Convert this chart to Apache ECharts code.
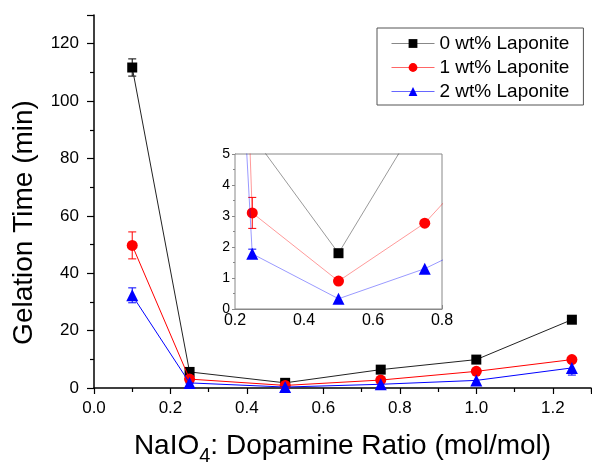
<!DOCTYPE html>
<html>
<head>
<meta charset="utf-8">
<script src="https://cdn.jsdelivr.net/npm/echarts@6/dist/echarts.min.js"></script>
<style>html,body{margin:0;padding:0;background:#fff}#c{width:592px;height:464px}</style>
</head>
<body>
<div id="c"></div>
<script>
var ratios = [0.1, 0.25, 0.5, 0.75, 1.0, 1.25];
var lap0 = [111.7, 5.6, 1.8, 6.4, 9.9, 23.8];
var lap1 = [49.7, 3.1, 0.9, 2.77, 5.8, 9.9];
var lap2 = [32.3, 1.78, 0.33, 1.3, 2.65, 7.0];
var err0 = [3.0, 0, 0, 0, 0, 0];
var err1 = [4.7, 0.5, 0, 0, 0, 0];
var err2 = [2.6, 0.15, 0, 0, 0, 2.5];
var names = ['0 wt% Laponite', '1 wt% Laponite', '2 wt% Laponite'];
var mainXTicks = [0.0, 0.2, 0.4, 0.6, 0.8, 1.0, 1.2];
var mainYTicks = [0, 20, 40, 60, 80, 100, 120];
var insetXTicks = [0.2, 0.4, 0.6, 0.8];
var insetYTicks = [0, 1, 2, 3, 4, 5];

var FONT = "'Liberation Sans', Arial, Helvetica, sans-serif";
var colors = ['#000000', '#ff0000', '#0000ff'];
var lineColors = ['#222222', '#ff0000', '#0000ff'];
var legendLineColors = ['#888888', '#ff6666', '#6666ff'];
var symbols = ['rect', 'circle', 'triangle'];
var sizes = [10, 11, 12];
var allVals = [lap0, lap1, lap2];
var allErr = [err0, err1, err2];

function pairs(v) { return ratios.map(function (x, i) { return [x, v[i]]; }); }
function errData(v, e) {
  var out = [];
  ratios.forEach(function (x, i) { if (e[i] > 0) out.push([x, v[i] - e[i], v[i] + e[i]]); });
  return out;
}
function errRender(color) {
  return function (params, api) {
    var lo = api.coord([api.value(0), api.value(1)]);
    var hi = api.coord([api.value(0), api.value(2)]);
    var w = 4;
    var st = { stroke: color, lineWidth: 1 };
    return { type: 'group', children: [
      { type: 'line', shape: { x1: lo[0], y1: lo[1], x2: hi[0], y2: hi[1] }, style: st },
      { type: 'line', shape: { x1: lo[0] - w, y1: lo[1], x2: lo[0] + w, y2: lo[1] }, style: st },
      { type: 'line', shape: { x1: hi[0] - w, y1: hi[1], x2: hi[0] + w, y2: hi[1] }, style: st }
    ]};
  };
}

var series = [];
[0, 1, 2].forEach(function (k) {
  series.push({ type: 'custom', name: 'err' + k, xAxisIndex: 0, yAxisIndex: 0, clip: true,
    renderItem: errRender(colors[k]), data: errData(allVals[k], allErr[k]), z: 2 });
});
[0, 1, 2].forEach(function (k) {
  series.push({ type: 'line', name: names[k], xAxisIndex: 0, yAxisIndex: 0,
    data: pairs(allVals[k]), symbol: symbols[k], symbolSize: sizes[k],
    itemStyle: { color: colors[k] }, lineStyle: { color: lineColors[k], width: 1 },
    z: 3 + k, animation: false });
});
[0, 1, 2].forEach(function (k) {
  series.push({ type: 'custom', name: 'ierr' + k, xAxisIndex: 1, yAxisIndex: 1, clip: true,
    renderItem: errRender(colors[k]), data: errData(allVals[k], allErr[k]), z: 12 });
});
[0, 1, 2].forEach(function (k) {
  series.push({ type: 'line', name: 'inset' + k, xAxisIndex: 1, yAxisIndex: 1,
    data: pairs(allVals[k]), symbol: symbols[k], symbolSize: sizes[k], clip: true,
    itemStyle: { color: colors[k] }, lineStyle: { color: colors[k], width: 1, opacity: 0.4 },
    z: 13 + k, animation: false });
});

var chart = echarts.init(document.getElementById('c'), null, { renderer: 'canvas' });
chart.setOption({
  animation: false,
  backgroundColor: '#ffffff',
  textStyle: { fontFamily: FONT },
  legend: {
    data: names.map(function (n, k) { return { name: n, lineStyle: { color: legendLineColors[k], width: 1 } }; }),
    orient: 'vertical', left: 377, top: 28,
    padding: [6, 14, 4, 14], itemGap: 5, itemWidth: 43, itemHeight: 11,
    borderColor: '#555', borderWidth: 1, backgroundColor: '#fff',
    textStyle: { fontFamily: FONT, fontSize: 19, color: '#000' },
    selectedMode: false, z: 20
  },
  grid: [
    { left: 94, top: 15, right: 1, bottom: 76, containLabel: false, outerBoundsMode: 'none' },
    { left: 235, top: 154, width: 207, height: 155, show: true, borderColor: '#888', borderWidth: 1, backgroundColor: '#fff', z: 10, containLabel: false, outerBoundsMode: 'none' }
  ],
  xAxis: [
    { type: 'value', gridIndex: 0, min: 0, max: 1.3, interval: 0.2,
      axisLine: { show: true, onZero: false, lineStyle: { color: '#000', width: 1.5 } },
      axisTick: { show: true, length: 6, lineStyle: { color: '#000', width: 1.2 } },
      minorTick: { show: true, splitNumber: 2, length: 4, lineStyle: { color: '#000', width: 1.2 } },
      splitLine: { show: false },
      axisLabel: { fontFamily: FONT, fontSize: 17, color: '#000', margin: 12, showMaxLabel: false,
        formatter: function (v) { return v.toFixed(1); } },
      name: '{a|NaIO}{s|4}{a|: Dopamine Ratio (mol/mol)}', nameLocation: 'middle', nameGap: 38,
      nameTextStyle: { rich: {
        a: { fontFamily: FONT, fontSize: 28, lineHeight: 40, color: '#000' },
        s: { fontFamily: FONT, fontSize: 20, lineHeight: 20, verticalAlign: 'bottom', color: '#000' }
      } }
    },
    { type: 'value', gridIndex: 1, min: 0.2, max: 0.8, interval: 0.2,
      axisLine: { show: true, onZero: false, lineStyle: { color: '#888', width: 1 } },
      axisTick: { show: true, inside: true, length: 4, lineStyle: { color: '#888' } },
      minorTick: { show: true, splitNumber: 2, length: 3, lineStyle: { color: '#888' } },
      splitLine: { show: false },
      axisLabel: { fontFamily: FONT, fontSize: 16, color: '#000', margin: 4,
        formatter: function (v) { return v.toFixed(1); } }
    }
  ],
  yAxis: [
    { type: 'value', gridIndex: 0, min: 0, max: 130, interval: 20,
      axisLine: { show: true, onZero: false, lineStyle: { color: '#000', width: 1.5 } },
      axisTick: { show: true, length: 7, lineStyle: { color: '#000', width: 1.2 } },
      minorTick: { show: true, splitNumber: 2, length: 4, lineStyle: { color: '#000', width: 1.2 } },
      splitLine: { show: false },
      axisLabel: { fontFamily: FONT, fontSize: 17, color: '#000', margin: 15, showMaxLabel: false },
      name: 'Gelation Time (min)', nameLocation: 'middle', nameGap: 56,
      nameTextStyle: { fontFamily: FONT, fontSize: 28, color: '#000', padding: [0, 42, 0, 0] }
    },
    { type: 'value', gridIndex: 1, min: 0, max: 5, interval: 1,
      axisLine: { show: true, onZero: false, lineStyle: { color: '#888', width: 1 } },
      axisTick: { show: true, length: 3, lineStyle: { color: '#888' } },
      minorTick: { show: true, splitNumber: 2, length: 2, lineStyle: { color: '#888' } },
      splitLine: { show: false },
      axisLabel: { fontFamily: FONT, fontSize: 14, color: '#000', margin: 5 }
    }
  ],
  series: series
});
</script>
</body>
</html>
